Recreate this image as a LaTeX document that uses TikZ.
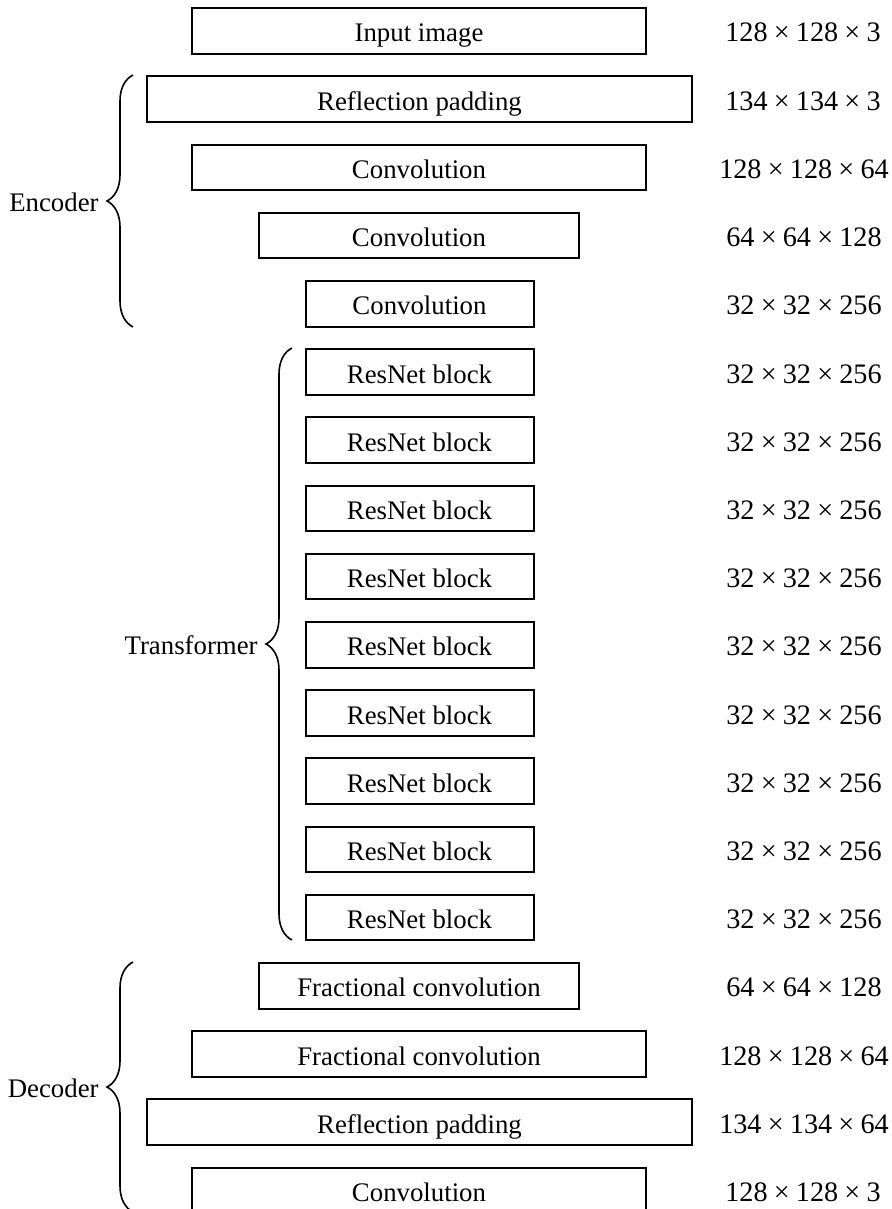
\documentclass[tikz,border=0pt]{standalone}
\usepackage{fontspec}
\setmainfont{Liberation Serif}
\usetikzlibrary{decorations.pathreplacing}
\newcommand\mytimes{\hspace{0.22em}×\hspace{0.22em}}
\begin{document}
\begin{tikzpicture}[x=0.5pt,y=-0.5pt,
  blk/.style={draw, line width=1pt, minimum height=22.75pt, inner sep=0pt, text height=11pt, text depth=0pt, font=\fontsize{13.4}{16}\selectfont},
  wA/.style={blk, minimum width=227pt},
  wB/.style={blk, minimum width=272.5pt},
  wC/.style={blk, minimum width=160pt},
  wD/.style={blk, minimum width=114pt},
  dim/.style={font=\fontsize{14.1}{17}\selectfont, inner sep=0pt, text height=11pt, text depth=0pt},
  grp/.style={font=\fontsize{13.4}{16}\selectfont, anchor=east, inner sep=0pt},
  brc/.style={decorate, decoration={brace, amplitude=13pt}, line width=0.8pt}]
\useasboundingbox (0,0) rectangle (891,1209);
\clip (0,0) rectangle (891,1209);
% boxes
\node[wA] (b0) at (419,31) {Input image};
\node[wB] (b1) at (419.5,99.2) {Reflection padding};
\node[wA] (b2) at (419,167.4) {Convolution};
\node[wC] (b3) at (419,235.6) {Convolution};
\node[wD] (b4) at (419.5,303.8) {Convolution};
\node[wD] (b5) at (419.5,372) {ResNet block};
\node[wD] (b6) at (419.5,440.2) {ResNet block};
\node[wD] (b7) at (419.5,508.4) {ResNet block};
\node[wD] (b8) at (419.5,576.6) {ResNet block};
\node[wD] (b9) at (419.5,644.8) {ResNet block};
\node[wD] (b10) at (419.5,713) {ResNet block};
\node[wD] (b11) at (419.5,781.2) {ResNet block};
\node[wD] (b12) at (419.5,849.4) {ResNet block};
\node[wD] (b13) at (419.5,917.6) {ResNet block};
\node[wC] (b14) at (419,985.8) {Fractional convolution};
\node[wA] (b15) at (419,1054) {Fractional convolution};
\node[wB] (b16) at (419.5,1122.2) {Reflection padding};
\node[wA] (b17) at (419,1190.4) {Convolution};
% dimensions
\node[dim] (d0) at (803,31) {128\mytimes128\mytimes3};
\node[dim] (d1) at (803,99.2) {134\mytimes134\mytimes3};
\node[dim] (d2) at (804,167.4) {128\mytimes128\mytimes64};
\node[dim] (d3) at (804,235.6) {64\mytimes64\mytimes128};
\node[dim] (d4) at (804,303.8) {32\mytimes32\mytimes256};
\node[dim] (d5) at (804,372) {32\mytimes32\mytimes256};
\node[dim] (d6) at (804,440.2) {32\mytimes32\mytimes256};
\node[dim] (d7) at (804,508.4) {32\mytimes32\mytimes256};
\node[dim] (d8) at (804,576.6) {32\mytimes32\mytimes256};
\node[dim] (d9) at (804,644.8) {32\mytimes32\mytimes256};
\node[dim] (d10) at (804,713) {32\mytimes32\mytimes256};
\node[dim] (d11) at (804,781.2) {32\mytimes32\mytimes256};
\node[dim] (d12) at (804,849.4) {32\mytimes32\mytimes256};
\node[dim] (d13) at (804,917.6) {32\mytimes32\mytimes256};
\node[dim] (d14) at (804,985.8) {64\mytimes64\mytimes128};
\node[dim] (d15) at (804,1054) {128\mytimes128\mytimes64};
\node[dim] (d16) at (804,1122.2) {134\mytimes134\mytimes64};
\node[dim] (d17) at (803,1190.4) {128\mytimes128\mytimes3};
% braces
\coordinate (eb) at (133,327);
\coordinate (et) at (133,75);
\draw[brc] (eb) -- (et);
\node[grp] (enc) at (99,202) {Encoder};
\coordinate (tb) at (292,940);
\coordinate (tt) at (292,348);
\draw[brc] (tb) -- (tt);
\node[grp] (trf) at (258,645) {Transformer};
\coordinate (db) at (133,1212);
\coordinate (dt) at (133,962);
\draw[brc] (db) -- (dt);
\node[grp] (dec) at (99,1088) {Decoder};
\end{tikzpicture}
\end{document}
